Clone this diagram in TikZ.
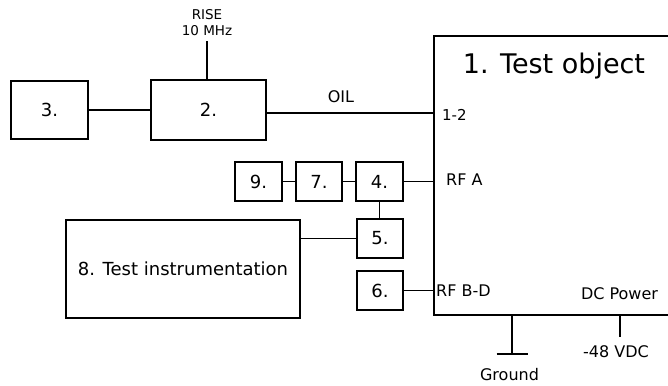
\documentclass[tikz,border=0pt]{standalone}
\usepackage{fontspec}
\setmainfont{DejaVu Sans}
\usepackage{tikz}
\tikzset{
    blok/.style={
        draw,
        line width=2pt,
        inner sep=0pt,
        outer sep=0pt,
        font=\fontsize{18}{21}\selectfont
    },
    wire/.style={line width=1.6pt},
    tag/.style={inner sep=0pt,font=\fontsize{16}{19}\selectfont}
}
\newcommand{\blok}[6] {
    \node[blok,minimum width={#4},minimum height={#5}] (#1) at ({#2}, {#3}) {#6};
}
\begin{document}
\begin{tikzpicture}[x=1pt,y=-1pt]
        \useasboundingbox (0,0) rectangle (668,385);
        \clip (0,0) rectangle (668,385);
        % test object, runs off the right edge
        \node[blok,minimum width=240,minimum height=279] (obj) at (554,175.5) {};
        \node[font=\fontsize{27}{31}\selectfont] (title) at (554,66) {1. Test object};
        \blok{n3}{49.5}{110}{77}{58}{3.}
        \blok{n2}{208.5}{110}{115}{60}{2.}
        \blok{n9}{258.5}{181.5}{47}{39}{9.}
        \blok{n7}{319}{181.5}{46}{39}{7.}
        \blok{n4}{379.5}{181.5}{47}{39}{4.}
        \blok{n5}{380}{238.5}{46}{39}{5.}
        \blok{n6}{380}{290.5}{46}{39}{6.}
        \blok{n8}{183}{269}{234}{98}{8. Test instrumentation}
        % ports and free ends
        \coordinate (p12) at (434,113);
        \coordinate (risetop) at (207,41);
        \coordinate (gnd) at (512,315);
        \coordinate (gndend) at (512,354);
        \coordinate (dc) at (620,315);
        \coordinate (dcend) at (620,337);
        % labels
        \node[tag,font=\fontsize{13.5}{16}\selectfont,align=center] (rise) at (207,22.5) {RISE\\10 MHz};
        \node[tag] (oil) at (341,97) {OIL};
        \node[tag,font=\fontsize{15}{18}\selectfont,anchor=west] (l12) at (442,115) {1-2};
        \node[tag,anchor=west] (lrfa) at (446,180) {RF A};
        \node[tag,anchor=west] (lrfbd) at (436,291) {RF B-D};
        \node[tag] (ldc) at (619.5,294) {DC Power};
        \node[tag] (l48) at (616,352) {-48 VDC};
        \node[tag] (lgnd) at (509.5,375) {Ground};
        % wires
        \draw[wire] (n3) -- (n2);
        \draw[wire] (risetop |- n2.north) -- (risetop);
        \draw[wire] (n2.east |- p12) -- (p12);
        \draw[wire] (n9) -- (n7);
        \draw[wire] (n7) -- (n4);
        \draw[wire] (n4.east) -- (n4.east -| obj.west);
        \draw[wire] (n4.south) -- (n4.south |- n5.north);
        \draw[wire] (n5.west) -- (n5.west -| n8.east);
        \draw[wire] (n6.east) -- (n6.east -| obj.west);
        \draw[wire] (gnd) -- (gndend);
        \draw[wire] ([xshift=-15.5pt]gndend) -- ([xshift=15.5pt]gndend);
        \draw[wire] (dc) -- (dcend);
    \end{tikzpicture}
\end{document}
